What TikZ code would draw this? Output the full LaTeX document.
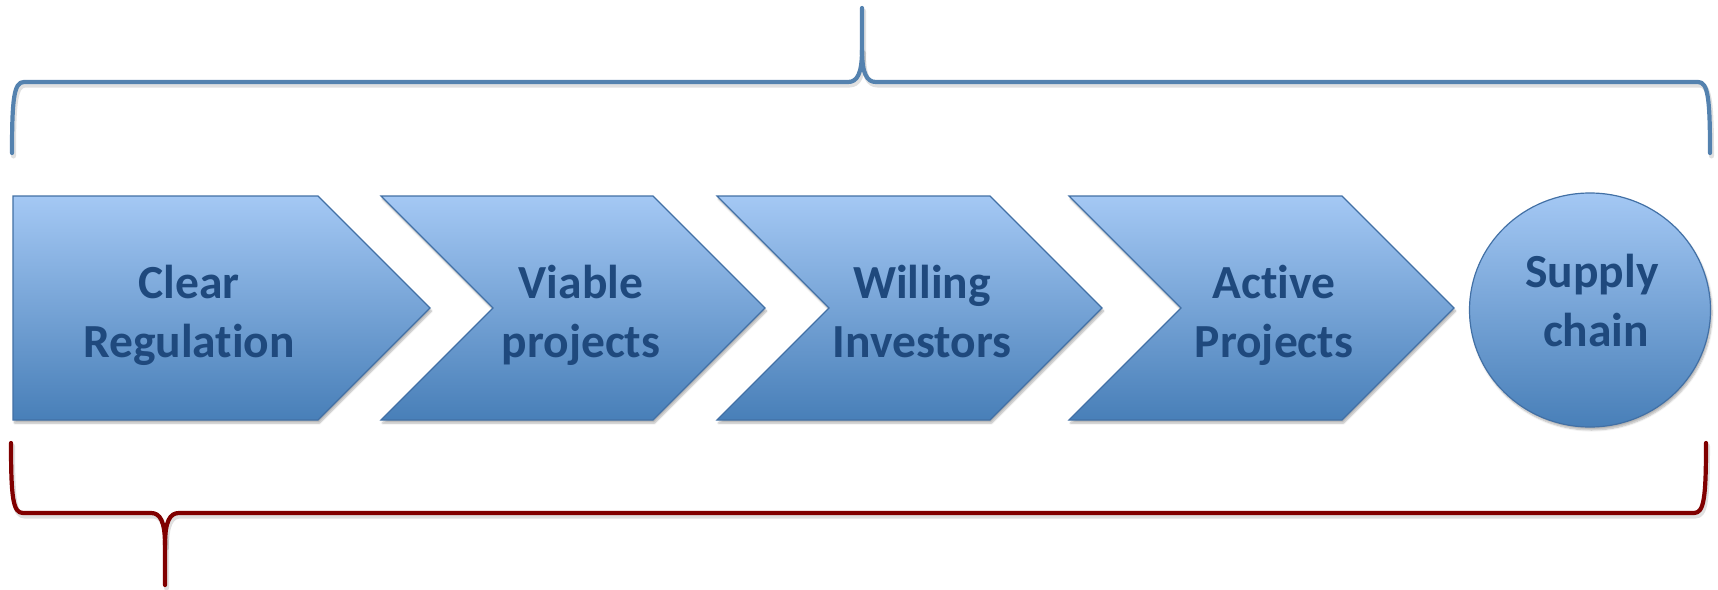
\documentclass[tikz,border=0pt]{standalone}
\usepackage{fontspec}
\setmainfont{Carlito}[Ligatures=NoCommon]
\usetikzlibrary{shadows.blur,shapes.geometric}
\definecolor{shTop}{RGB}{164,200,244}
\definecolor{shBot}{RGB}{72,127,184}
\definecolor{shLine}{RGB}{66,112,165}
\definecolor{txtBlue}{RGB}{31,73,125}
\definecolor{braceBlue}{RGB}{84,130,175}
\definecolor{braceRed}{RGB}{128,0,0}
\tikzset{
  chev/.style={top color=shTop, bottom color=shBot, draw=shLine, line width=1.2pt, line join=miter,
    blur shadow={shadow xshift=1.5pt, shadow yshift=-3pt, shadow blur steps=6, shadow opacity=30}},
  lbl/.style={font=\bfseries\fontsize{47.5}{58.5}\selectfont, text=txtBlue, align=center, inner sep=0pt, anchor=base},
  bracepath/.style={line width=4.2pt, line cap=round, line join=round},
  braceshadow/.style={line width=5pt, line cap=round, line join=round, draw=black, opacity=0.12}
}
\begin{document}
\begin{tikzpicture}[x=1pt,y=-1pt]
\useasboundingbox (0,0) rectangle (1718,589);
% chevrons
\path[chev] (13,196) -- (318,196) -- (430,308) -- (318,420) -- (13,420) -- cycle;
\path[chev] (381,196) -- (653,196) -- (765,308) -- (653,420) -- (381,420) -- (493,308) -- cycle;
\path[chev] (717,196) -- (990,196) -- (1102,308) -- (990,420) -- (717,420) -- (829,308) -- cycle;
\path[chev] (1069,196) -- (1342,196) -- (1454,308) -- (1342,420) -- (1069,420) -- (1181,308) -- cycle;
\node[chev, ellipse, minimum width=241pt, minimum height=234pt, inner sep=0pt] (sc) at (1590,310) {};
% labels (anchor = baseline of last line)
\node[lbl] (t1) at (189,357) {Clear\\Regulation};
\node[lbl] (t2) at (581,357) {Viable\\projects};
\node[lbl] (t3) at (922,357) {Willing\\Investors};
\node[lbl] (t4) at (1274,357) {Active\\Projects};
\node[lbl] (t5) at (1592,346) {Supply\\\hspace*{8pt}chain};
% brace shadows
\begin{scope}[shift={(1.5,3)}]
\draw[braceshadow] (12,153) .. controls (12,98) and (14,82) .. (24,82) -- (848,82)
  .. controls (857,82) and (862,74) .. (862,50) -- (862,8);
\draw[braceshadow] (862,50) .. controls (862,74) and (867,82) .. (876,82) -- (1698,82)
  .. controls (1708,82) and (1710,98) .. (1710,153);
\draw[braceshadow] (11,443) .. controls (11,498) and (13,513) .. (23,513) -- (151,513)
  .. controls (160,513) and (165,521) .. (165,545) -- (165,585);
\draw[braceshadow] (165,545) .. controls (165,521) and (170,513) .. (179,513) -- (1694,513)
  .. controls (1704,513) and (1706,498) .. (1706,443);
\end{scope}
% top brace
\draw[bracepath, braceBlue] (12,153) .. controls (12,98) and (14,82) .. (24,82) -- (848,82)
  .. controls (857,82) and (862,74) .. (862,50) -- (862,8);
\draw[bracepath, braceBlue] (862,50) .. controls (862,74) and (867,82) .. (876,82) -- (1698,82)
  .. controls (1708,82) and (1710,98) .. (1710,153);
% bottom brace
\draw[bracepath, braceRed] (11,443) .. controls (11,498) and (13,513) .. (23,513) -- (151,513)
  .. controls (160,513) and (165,521) .. (165,545) -- (165,585);
\draw[bracepath, braceRed] (165,545) .. controls (165,521) and (170,513) .. (179,513) -- (1694,513)
  .. controls (1704,513) and (1706,498) .. (1706,443);
\end{tikzpicture}
\end{document}
